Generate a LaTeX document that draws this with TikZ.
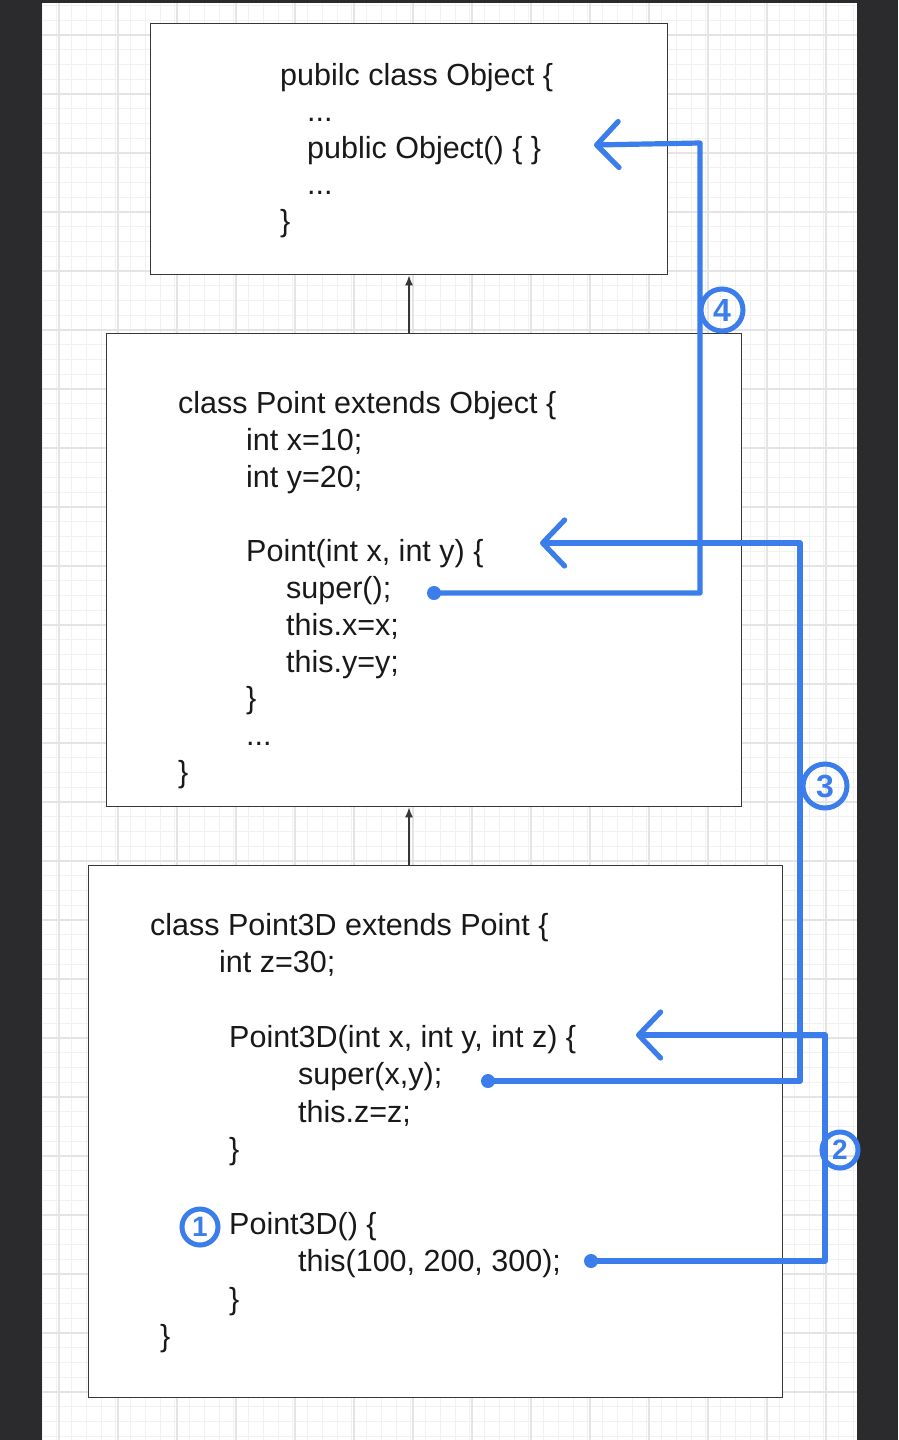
\documentclass[tikz,border=0pt]{standalone}
\usepackage{fontspec}
\setmainfont{Liberation Sans}
\usetikzlibrary{arrows.meta}
\definecolor{penblue}{RGB}{58,125,235}
\definecolor{darkbg}{RGB}{43,43,45}
\definecolor{gridminor}{RGB}{241,241,241}
\definecolor{gridmajor}{RGB}{228,228,228}
\definecolor{boxline}{RGB}{55,55,55}
\begin{document}
\begin{tikzpicture}[x=1pt,y=-1pt,
  code/.style={anchor=base west, inner sep=0pt, font=\fontsize{30.5}{36}\selectfont, text=black!90},
  classbox/.style={draw=boxline, line width=1.4pt, fill=white, anchor=north west, inner sep=0pt},
  inherit/.style={draw=boxline, line width=1.4pt, -{Latex[length=10pt,width=8pt]}},
  pen/.style={draw=penblue, line width=5.2pt, line cap=round, line join=round},
  penarrow/.style={pen, -{Straight Barb[length=22pt,width=46pt,round]}},
  dotnode/.style={circle, fill=penblue, inner sep=0pt, minimum size=14pt},
  stepnum/.style={circle, draw=penblue, line width=5pt, text=penblue, inner sep=0pt, font=\fontsize{32}{32}\selectfont\bfseries}
]
\useasboundingbox (0,0) rectangle (898,1440);
% background
\fill[white] (42,0) rectangle (857,1440);
\foreach \i in {0,...,55} {
  \draw[gridminor, line width=0.9pt] ({42+14.75*\i},0) -- ({42+14.75*\i},1440);
}
\foreach \i in {-2,...,97} {
  \draw[gridminor, line width=0.9pt] (42,{35+14.75*\i}) -- (857,{35+14.75*\i});
}
\foreach \i in {1,...,14} {
  \draw[gridmajor, line width=1.1pt] ({59*\i},0) -- ({59*\i},1440);
}
\foreach \i in {0,...,24} {
  \draw[gridmajor, line width=1.1pt] (42,{35+59*\i}) -- (857,{35+59*\i});
}
\fill[darkbg] (0,0) rectangle (42,1440);
\fill[darkbg] (857,0) rectangle (898,1440);
\fill[darkbg] (0,0) rectangle (898,3);

% class boxes
\node[classbox, minimum width=517pt, minimum height=251pt] (obj) at (150,23) {};
\node[classbox, minimum width=635pt, minimum height=473pt] (pt) at (106,333) {};
\node[classbox, minimum width=694pt, minimum height=532pt] (p3) at (88,865) {};

\coordinate (ax) at (409,0);
\draw[inherit] (pt.north -| ax) -- (obj.south -| ax);
\draw[inherit] (p3.north -| ax) -- (pt.south -| ax);

% Object
\node[code] (o1) at (280,85) {pubilc class Object \{};
\node[code] (o2) at (307,121.5) {...};
\node[code] (o3) at (307,158) {public Object() \{ \}};
\node[code] (o4) at (307,194.5) {...};
\node[code] (o5) at (280,231) {\}};

% Point
\node[code] (a1) at (178,413) {class Point extends Object \{};
\node[code] (a2) at (246,450) {int x=10;};
\node[code] (a3) at (246,487) {int y=20;};
\node[code] (a4) at (246,561) {Point(int x, int y) \{};
\node[code] (a5) at (286,598) {super();};
\node[code] (a6) at (286,635) {this.x=x;};
\node[code] (a7) at (286,672) {this.y=y;};
\node[code] (a8) at (246,708.5) {\}};
\node[code] (a9) at (246,745.5) {...};
\node[code] (a10) at (178,782.5) {\}};

% Point3D
\node[code] (b1) at (150,935.5) {class Point3D extends Point \{};
\node[code] (b2) at (219,972.8) {int z=30;};
\node[code] (b3) at (229,1047.4) {Point3D(int x, int y, int z) \{};
\node[code] (b4) at (298,1084.7) {super(x,y);};
\node[code] (b5) at (298,1122) {this.z=z;};
\node[code] (b6) at (229,1159.3) {\}};
\node[code] (b7) at (229,1234) {Point3D() \{};
\node[code] (b8) at (298,1271.5) {this(100, 200, 300);};
\node[code] (b9) at (229,1309) {\}};
\node[code] (b10) at (160,1346.5) {\}};

% call arrows
\node[dotnode] (d4) at (434,593) {};
\coordinate (k4) at (700,143);
\coordinate (t4) at (594,145);
\draw[penarrow] (d4.center) -| (k4) -- (t4);

\node[dotnode] (d3) at (488,1081) {};
\coordinate (k3) at (800,543);
\coordinate (t3) at (540,543);
\draw[penarrow] (d3.center) -| (k3) -- (t3);

\node[dotnode] (d2) at (591,1261) {};
\coordinate (k2) at (825,1035);
\coordinate (t2) at (636,1035);
\draw[penarrow] (d2.center) -| (k2) -- (t2);

% step numbers
\node[stepnum, minimum size=42pt] (s4) at (722,310) {4};
\node[stepnum, minimum size=44pt] (s3) at (825,786) {3};
\node[stepnum, minimum size=36pt, font=\fontsize{28}{28}\selectfont\bfseries] (s2) at (840,1150) {2};
\node[stepnum, minimum size=36pt, font=\fontsize{28}{28}\selectfont\bfseries] (s1) at (200,1227) {1};
\end{tikzpicture}
\end{document}
